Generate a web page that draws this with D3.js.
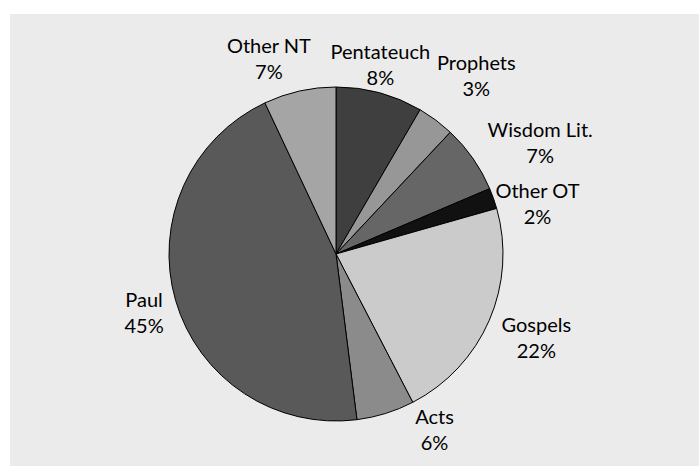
<!DOCTYPE html>
<html>
<head>
<meta charset="utf-8">
<script src="https://cdn.jsdelivr.net/npm/d3@7"></script>
<style>
  html, body { margin: 0; padding: 0; background: #ffffff; }
  svg { display: block; }
</style>
</head>
<body>
<svg id="chart" width="699" height="466"></svg>
<script>
// ---- data ----
const categories = ["Pentateuch", "Prophets", "Wisdom Lit.", "Other OT", "Gospels", "Acts", "Paul", "Other NT"];
const shares = [8.4, 3.6, 6.6, 2.0, 21.8, 5.6, 45.0, 7.0];
const pctLabels = ["8%", "3%", "7%", "2%", "22%", "6%", "45%", "7%"];

// ---- style / layout ----
const colors = ["#3f3f3f", "#979797", "#666666", "#111111", "#cbcbcb", "#8b8b8b", "#595959", "#a5a5a5"];
const W = 699, H = 466;
const cx = 336, cy = 254, R = 167;
// label placement: angle shift (deg) from slice mid-angle and distance from centre
const labelShift = [-1.4, 2.7, 8.0, 7.4, 1.0, -11.0, -2.8, -7.0];
const labelDist = [187, 221, 229, 206, 220, 208, 203, 200];
const fontFamily = "Lato, 'Open Sans', 'DejaVu Sans', sans-serif";

const svg = d3.select("#chart");
svg.append("rect").attr("x", 10).attr("y", 14).attr("width", W - 10).attr("height", H - 14).attr("fill", "#ebebeb");

const data = categories.map((c, i) => ({ name: c, value: shares[i], label: pctLabels[i], i }));
const pie = d3.pie().value(d => d.value).sort(null);
const arcs = pie(data);
const arc = d3.arc().innerRadius(0).outerRadius(R);

const g = svg.append("g").attr("transform", `translate(${cx},${cy})`);
g.selectAll("path").data(arcs).join("path")
  .attr("d", arc)
  .attr("fill", d => colors[d.data.i])
  .attr("stroke", "#000")
  .attr("stroke-width", 1)
  .attr("stroke-linejoin", "round");

const lab = g.selectAll("text").data(arcs).join("text")
  .attr("text-anchor", "middle")
  .attr("font-family", fontFamily)
  .attr("font-size", 20)
  .attr("fill", "#000")
  .attr("transform", d => {
    const a = (d.startAngle + d.endAngle) / 2 + labelShift[d.data.i] * Math.PI / 180;
    const r = labelDist[d.data.i];
    return `translate(${r * Math.sin(a)},${-r * Math.cos(a)})`;
  });
lab.append("tspan").attr("x", 0).attr("y", -13).text(d => d.data.name);
lab.append("tspan").attr("x", 0).attr("y", 13).text(d => d.data.label);
</script>
</body>
</html>
